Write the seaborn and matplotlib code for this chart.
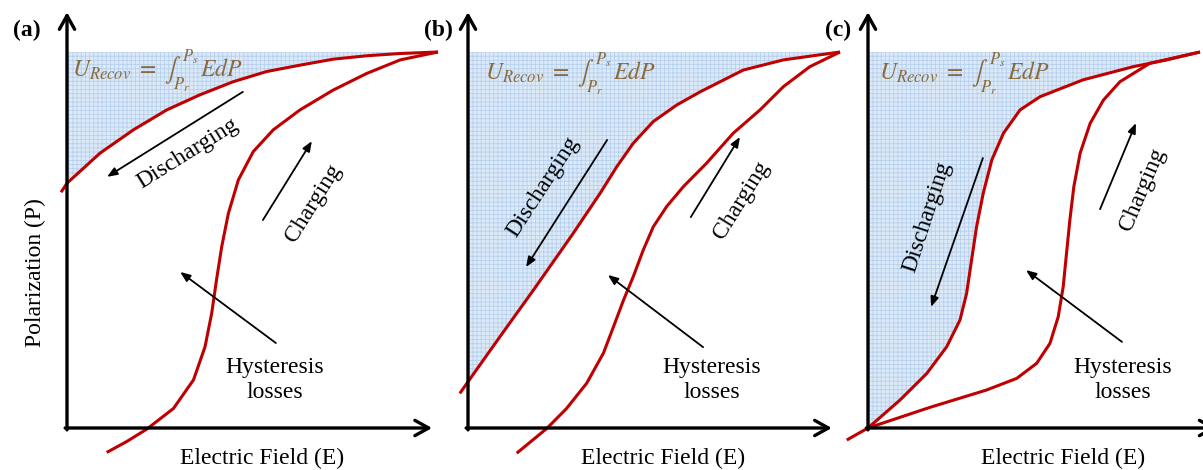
import numpy as np
import pandas as pd
import matplotlib
matplotlib.use("Agg")
import matplotlib.pyplot as plt
import seaborn as sns

# ---------------- data (E, P in normalised units; origin at axes corner, P=1 = saturation) ----
a_dis_E = [-0.016, 0.0, 0.089, 0.179, 0.269, 0.358, 0.448, 0.538, 0.628, 0.718, 0.808, 0.898, 1.0]
a_dis_P = [0.627, 0.651, 0.731, 0.793, 0.846, 0.886, 0.921, 0.948, 0.965, 0.981, 0.990, 0.996, 1.0]
a_chg_E = [0.107, 0.161, 0.215, 0.287, 0.341, 0.372, 0.390, 0.403, 0.417, 0.435, 0.462, 0.502,
           0.556, 0.628, 0.718, 0.808, 0.898, 1.0]
a_chg_P = [-0.065, -0.036, -0.003, 0.052, 0.128, 0.216, 0.305, 0.394, 0.482, 0.571, 0.660, 0.735,
           0.793, 0.846, 0.899, 0.943, 0.979, 1.0]

b_dis_E = [-0.022, 0.0, 0.086, 0.176, 0.283, 0.355, 0.400, 0.444, 0.498, 0.561, 0.624, 0.740, 0.848, 1.0]
b_dis_P = [0.092, 0.123, 0.243, 0.367, 0.518, 0.624, 0.695, 0.757, 0.815, 0.859, 0.894, 0.952, 0.979, 1.0]
b_chg_E = [0.131, 0.212, 0.265, 0.319, 0.364, 0.391, 0.418, 0.444, 0.471, 0.498, 0.534, 0.579,
           0.641, 0.713, 0.785, 0.848, 0.919, 1.0]
b_chg_P = [-0.067, -0.001, 0.052, 0.119, 0.199, 0.269, 0.340, 0.402, 0.473, 0.535, 0.589, 0.642,
           0.704, 0.784, 0.846, 0.908, 0.961, 1.0]

c_dis_E = [-0.064, 0.0, 0.096, 0.177, 0.237, 0.277, 0.297, 0.312, 0.327, 0.347, 0.373, 0.408,
           0.458, 0.518, 0.648, 0.799, 0.900, 1.0]
c_dis_P = [-0.032, 0.0, 0.074, 0.145, 0.216, 0.287, 0.358, 0.447, 0.535, 0.624, 0.713, 0.784,
           0.846, 0.881, 0.926, 0.961, 0.979, 1.0]
c_chg_E = [0.0, 0.187, 0.357, 0.448, 0.508, 0.548, 0.573, 0.588, 0.598, 0.608, 0.620, 0.639,
           0.669, 0.709, 0.759, 0.849, 1.0]
c_chg_P = [0.0, 0.055, 0.101, 0.132, 0.172, 0.225, 0.296, 0.376, 0.465, 0.553, 0.642, 0.731,
           0.810, 0.872, 0.921, 0.970, 1.0]

panel_labels = ["(a)", "(b)", "(c)"]
xlabel = "Electric Field (E)"
ylabel = "Polarization (P)"
formula = r"$U_{Recov}\ =\ \int_{P_r}^{P_s}\,EdP$"

# ---------------- style ----------------
sns.set_style("white")
plt.rcParams["font.family"] = ["Liberation Serif", "DejaVu Serif"]
plt.rcParams["mathtext.fontset"] = "stix"
plt.rcParams["text.color"] = "black"
plt.rcParams["hatch.linewidth"] = 0.6

W_PX, H_PX = 1203, 470
fig = plt.figure(figsize=(W_PX / 100, H_PX / 100), dpi=100)

RED = "#c00000"
FILL = "#dce9f7"
TXT = 17

panels = [
    dict(ox=67, W=371, dis=(a_dis_E, a_dis_P), chg=(a_chg_E, a_chg_P), xend=0.984,
         dis_arrow=((0.474, 0.894), (0.108, 0.668)), dis_text=(0.326, 0.731, 32),
         chg_arrow=((0.528, 0.553), (0.660, 0.763)), chg_text=(0.665, 0.598, 58),
         hy_arrow=((0.563, 0.226), (0.305, 0.415)), hy_text=(0.561, 0.128),
         f_pos=(0.243, 0.947), lab_px=27),
    dict(ox=468, W=372, dis=(b_dis_E, b_dis_P), chg=(b_chg_E, b_chg_P), xend=0.978,
         dis_arrow=((0.374, 0.766), (0.156, 0.428)), dis_text=(0.202, 0.641, 57),
         chg_arrow=((0.599, 0.561), (0.731, 0.774)), chg_text=(0.735, 0.606, 58),
         hy_arrow=((0.632, 0.215), (0.376, 0.407)), hy_text=(0.656, 0.128),
         f_pos=(0.274, 0.939), lab_px=438),
    dict(ox=868, W=332, dis=(c_dis_E, c_dis_P), chg=(c_chg_E, c_chg_P), xend=1.05,
         dis_arrow=((0.346, 0.718), (0.190, 0.322)), dis_text=(0.178, 0.561, 72),
         chg_arrow=((0.699, 0.582), (0.807, 0.811)), chg_text=(0.828, 0.633, 67),
         hy_arrow=((0.765, 0.229), (0.476, 0.420)), hy_text=(0.768, 0.128),
         f_pos=(0.289, 0.939), lab_px=838),
]

OY, H = 428, 376
for i, p in enumerate(panels):
    ax = fig.add_axes([p["ox"] / W_PX, (H_PX - OY) / H_PX, p["W"] / W_PX, H / H_PX])
    ax.set_xlim(0, 1)
    ax.set_ylim(0, 1)
    ax.axis("off")

    dE, dP = np.array(p["dis"][0]), np.array(p["dis"][1])
    m = dE >= 0
    ax.fill_between(dE[m], dP[m], 1.0, facecolor=FILL, edgecolor="#b7d0ee",
                    hatch="++++", linewidth=0, zorder=1)

    df_d = pd.DataFrame({"E": dE, "P": dP})
    df_c = pd.DataFrame({"E": p["chg"][0], "P": p["chg"][1]})
    for df in (df_d, df_c):
        sns.lineplot(data=df, x="E", y="P", sort=False, estimator=None, color=RED,
                     lw=2.2, ax=ax, clip_on=False, zorder=3,
                     solid_joinstyle="round", solid_capstyle="butt")
    ax.set_xlabel("")
    ax.set_ylabel("")

    # axes with arrow heads
    ax.annotate("", xy=(0, 1.106), xytext=(0, -0.005), xycoords="data",
                arrowprops=dict(arrowstyle="->,head_length=0.45,head_width=0.25",
                                lw=2.4, color="black", mutation_scale=22,
                                shrinkA=0, shrinkB=0), annotation_clip=False, zorder=4)
    ax.annotate("", xy=(p["xend"], 0), xytext=(-0.005, 0), xycoords="data",
                arrowprops=dict(arrowstyle="->,head_length=0.45,head_width=0.25",
                                lw=2.4, color="black", mutation_scale=22,
                                shrinkA=0, shrinkB=0), annotation_clip=False, zorder=4)

    arr = dict(arrowstyle="-|>,head_length=0.5,head_width=0.2", lw=1.3, color="black",
               mutation_scale=12, shrinkA=0, shrinkB=0)
    for key in ("dis_arrow", "chg_arrow", "hy_arrow"):
        (x0, y0), (x1, y1) = p[key]
        ax.annotate("", xy=(x1, y1), xytext=(x0, y0), arrowprops=arr,
                    annotation_clip=False, zorder=5)

    x, y, r = p["dis_text"]
    ax.text(x, y, "Discharging", rotation=r, rotation_mode="anchor", ha="center",
            va="center", fontsize=TXT, zorder=6)
    x, y, r = p["chg_text"]
    ax.text(x, y, "Charging", rotation=r, rotation_mode="anchor", ha="center",
            va="center", fontsize=TXT, zorder=6)
    x, y = p["hy_text"]
    ax.text(x, y, "Hysteresis\nlosses", ha="center", va="center", fontsize=TXT,
            linespacing=1.25, zorder=6)
    ax.text(p["f_pos"][0], p["f_pos"][1], formula, ha="center", va="center",
            fontsize=17, color="#8a6a3c", zorder=6)

    fig.text((p["ox"] + 195) / W_PX, 1 - 458 / H_PX, xlabel, ha="center", va="center",
             fontsize=TXT)
    fig.text(p["lab_px"] / W_PX, 1 - 30 / H_PX, panel_labels[i], ha="center", va="center",
             fontsize=17, fontweight="bold")

fig.text(35 / W_PX, 1 - 273 / H_PX, ylabel, rotation=90, ha="center", va="center",
         fontsize=TXT)

fig.savefig("out.png", dpi=100)
